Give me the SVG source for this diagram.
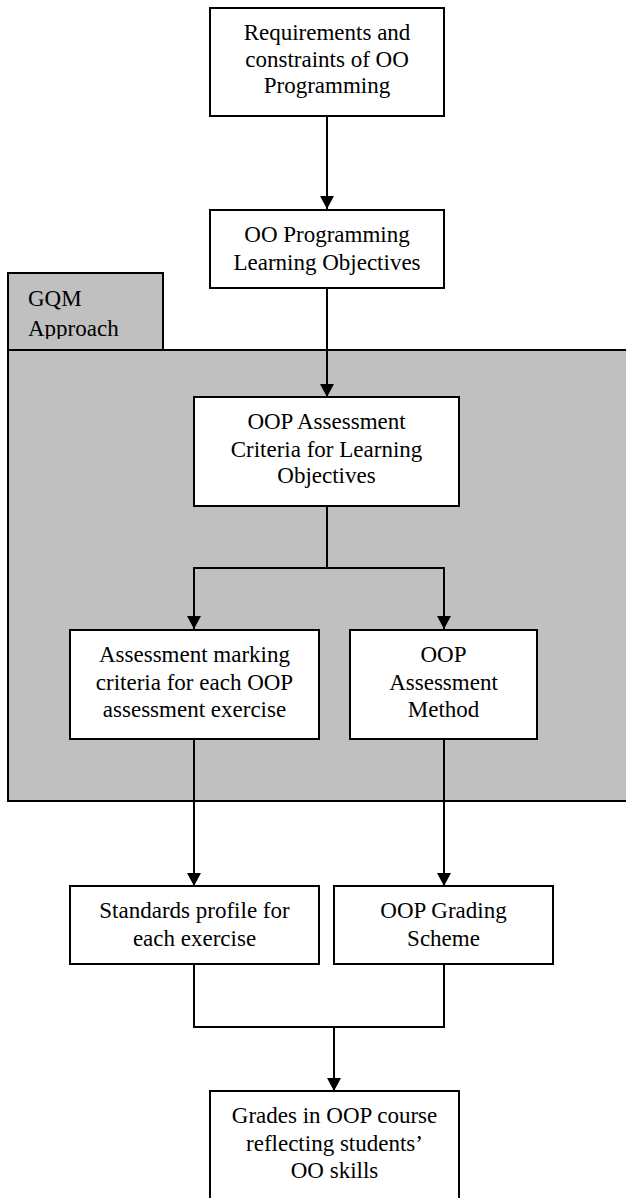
<svg xmlns="http://www.w3.org/2000/svg" width="626" height="1198" viewBox="0 0 626 1198">
<style>
.box{fill:#fff;stroke:#000;stroke-width:2}
.ln{fill:none;stroke:#000;stroke-width:2}
.panel{fill:#c0c0c0;stroke:#000;stroke-width:2}
</style>
<defs>
<marker id="ah" markerUnits="userSpaceOnUse" markerWidth="14" markerHeight="14" refX="13" refY="7" orient="auto">
<path d="M0,0 L13,7 L0,14 Z" fill="#000"/>
</marker>
<clipPath id="tabclip"><rect x="9" y="274" width="153" height="65"/></clipPath>
</defs>
<rect width="626" height="1198" fill="#fff"/>
<g font-family="Liberation Serif, Times New Roman, Times, serif" font-size="23" fill="#000">
<g id="gqm-panel">
<rect class="panel" x="8" y="273" width="155" height="77"/>
<rect class="panel" x="8" y="350" width="640" height="451"/>
<text clip-path="url(#tabclip)"><tspan x="28" y="306">GQM</tspan><tspan x="28" y="336">Approach</tspan></text>
</g>
<g id="connectors">
<line class="ln" x1="327" y1="116" x2="327" y2="209" marker-end="url(#ah)"/>
<line class="ln" x1="327" y1="288" x2="327" y2="397" marker-end="url(#ah)"/>
<polyline class="ln" points="327,506 327,568 194,568 194,629" marker-end="url(#ah)"/>
<polyline class="ln" points="327,568 444,568 444,629" marker-end="url(#ah)"/>
<line class="ln" x1="194" y1="739" x2="194" y2="886" marker-end="url(#ah)"/>
<line class="ln" x1="444" y1="739" x2="444" y2="886" marker-end="url(#ah)"/>
<polyline class="ln" points="194,964 194,1027 444,1027 444,964"/>
<line class="ln" x1="334" y1="1027" x2="334" y2="1091" marker-end="url(#ah)"/>
</g>
<g text-anchor="middle">
<g id="n1">
<rect class="box" x="210" y="8" width="234" height="108"/>
<text><tspan x="327" y="40">Requirements and</tspan><tspan x="327" y="67">constraints of OO</tspan><tspan x="327" y="93">Programming</tspan></text>
</g>
<g id="n2">
<rect class="box" x="210" y="210" width="234" height="78"/>
<text><tspan x="327" y="242">OO Programming</tspan><tspan x="327" y="270">Learning Objectives</tspan></text>
</g>
<g id="n3">
<rect class="box" x="194" y="397" width="265" height="109"/>
<text><tspan x="326.5" y="429">OOP Assessment</tspan><tspan x="326.5" y="457">Criteria for Learning</tspan><tspan x="326.5" y="483">Objectives</tspan></text>
</g>
<g id="n4">
<rect class="box" x="70" y="630" width="249" height="109"/>
<text><tspan x="194.5" y="662">Assessment marking</tspan><tspan x="194.5" y="690">criteria for each OOP</tspan><tspan x="194.5" y="717">assessment exercise</tspan></text>
</g>
<g id="n5">
<rect class="box" x="350" y="630" width="187" height="109"/>
<text><tspan x="443.5" y="662">OOP</tspan><tspan x="443.5" y="690">Assessment</tspan><tspan x="443.5" y="717">Method</tspan></text>
</g>
<g id="n6">
<rect class="box" x="70" y="886" width="249" height="78"/>
<text><tspan x="194.5" y="918">Standards profile for</tspan><tspan x="194.5" y="946">each exercise</tspan></text>
</g>
<g id="n7">
<rect class="box" x="334" y="886" width="219" height="78"/>
<text><tspan x="443.5" y="918">OOP Grading</tspan><tspan x="443.5" y="946">Scheme</tspan></text>
</g>
<g id="n8">
<rect class="box" x="210" y="1091" width="249" height="130"/>
<text><tspan x="334.5" y="1123">Grades in OOP course</tspan><tspan x="334.5" y="1151">reflecting students’</tspan><tspan x="334.5" y="1178">OO skills</tspan></text>
</g>
</g>
</g>
</svg>
